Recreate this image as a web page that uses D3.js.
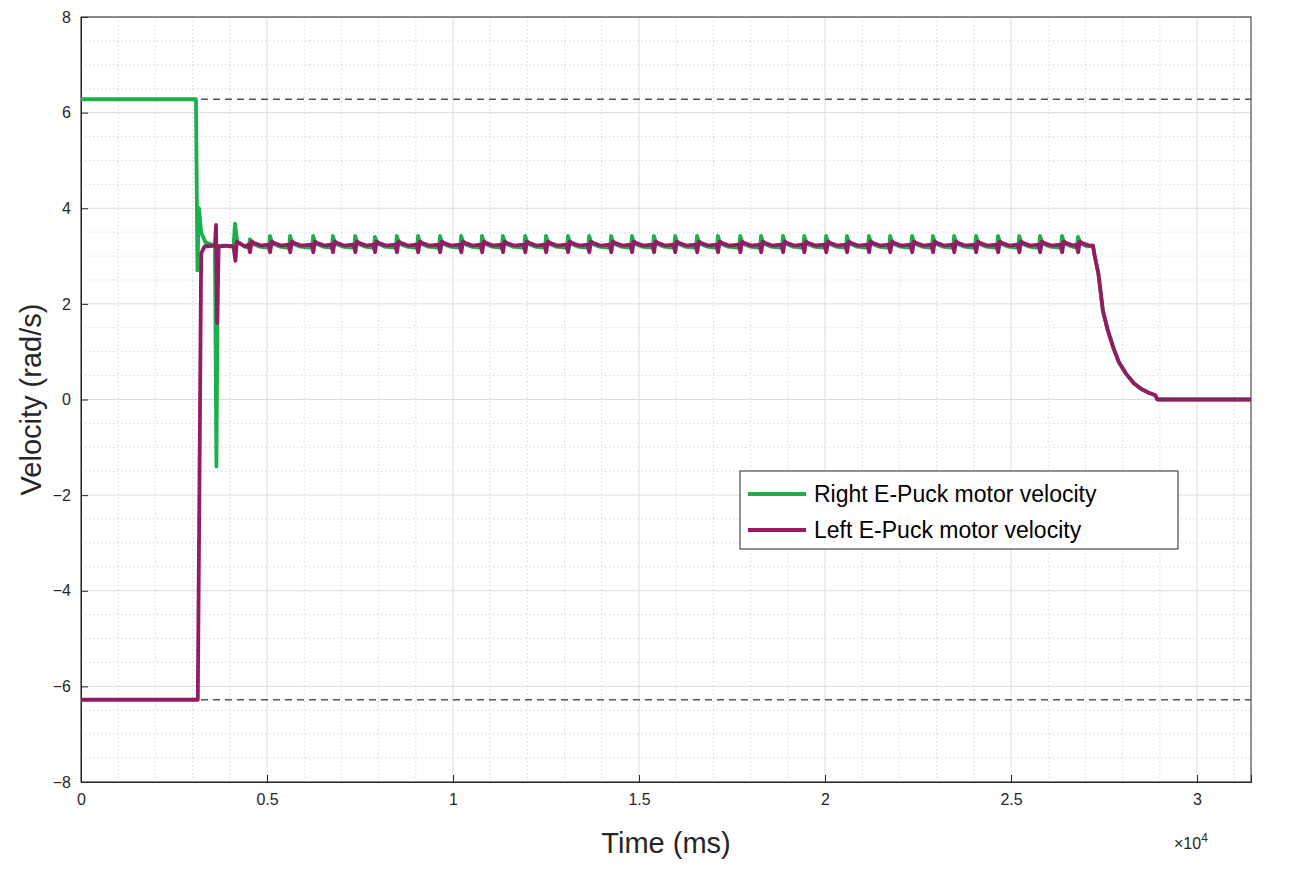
<!DOCTYPE html>
<html><head><meta charset="utf-8">
<script src="https://cdn.jsdelivr.net/npm/d3@7"></script>
<style>body{margin:0;background:#fff}text{font-family:"Liberation Sans",Arial,sans-serif}</style>
</head><body><svg id="c" width="1292" height="875"></svg>
<script>
// ---- data ----
const xTicks = [0, 5000, 10000, 15000, 20000, 25000, 30000];
const xTickLabels = ["0", "0.5", "1", "1.5", "2", "2.5", "3"];
const yTicks = [-8, -6, -4, -2, 0, 2, 4, 6, 8];
const refLevels = [6.28, -6.28];
// spike (oscillation) times in ms and green peak heights
const spikeTimes = [4540,5080,5620,6240,6770,7370,7900,8490,9060,9650,10220,10780,11340,11940,12500,13090,13660,14250,14810,15400,15970,16560,17120,17720,18280,18870,19440,20030,20590,21180,21750,22340,22900,23470,24060,24650,25220,25780,26370,26800];
const spikePeaks = [3.35,3.42,3.42,3.42,3.42,3.42,3.40,3.42,3.42,3.42,3.42,3.42,3.42,3.42,3.42,3.42,3.42,3.42,3.42,3.42,3.42,3.42,3.42,3.42,3.42,3.42,3.42,3.42,3.42,3.42,3.42,3.42,3.42,3.42,3.42,3.42,3.42,3.42,3.42,3.40];
// right motor breakpoints before spikes
const rightStart = [[0,6.28],[3090,6.28],[3130,2.7],[3170,4.0],[3230,3.5],[3350,3.28],[3600,3.22],[3640,-1.4],[3680,3.2],[3800,3.22],[4100,3.2],[4140,3.68],[4200,3.3],[4400,3.2]];
const leftStart = [[0,-6.28],[3090,-6.28],[3140,-6.28],[3230,3.05],[3320,3.2],[3600,3.22],[3630,3.65],[3660,1.6],[3700,3.2],[3900,3.22],[4100,3.2],[4150,2.9],[4190,3.3],[4400,3.2]];
// shared ending decay
const endDecay = [[27200,3.22],[27250,3.0],[27350,2.62],[27470,1.85],[27600,1.45],[27750,1.08],[27900,0.78],[28100,0.53],[28300,0.34],[28500,0.22],[28700,0.14],[28880,0.09],[28930,0.0],[31450,0.0]];

const seriesNames = ["Right E-Puck motor velocity", "Left E-Puck motor velocity"];
const colors = ["#1cb04c", "#951a64"];

function buildRight(){
  const p = rightStart.slice();
  spikeTimes.forEach((t,i)=>{
    p.push([t-25,3.17],[t,spikePeaks[i]],[t+40,3.32],[t+120,3.24],[t+260,3.2]);
  });
  return p.concat(endDecay);
}
function buildLeft(){
  const p = leftStart.slice();
  spikeTimes.forEach((t,i)=>{
    p.push([t-40,3.24],[t+5,3.08],[t+45,3.3],[t+150,3.26],[t+300,3.22]);
  });
  return p.concat(endDecay);
}
const series = [buildRight(), buildLeft()];

// ---- chart ----
const svg = d3.select("#c");
const L=81, R=1251, T=17, B=782;
const x = d3.scaleLinear().domain([0,31450]).range([L,R]);
const y = d3.scaleLinear().domain([-8,8]).range([B,T]);
const g = svg.append("g");

// minor grid
d3.range(1000,31450,1000).filter(v=>v%5000).forEach(v=>g.append("line").attr("x1",x(v)).attr("x2",x(v)).attr("y1",T).attr("y2",B).attr("stroke","#c8c8c8").attr("stroke-dasharray","1,3"));
d3.range(-7.5,8,0.5).filter(v=>Math.abs(v%2)>1e-9).forEach(v=>g.append("line").attr("y1",y(v)).attr("y2",y(v)).attr("x1",L).attr("x2",R).attr("stroke","#c8c8c8").attr("stroke-dasharray","1,3"));
// major grid
xTicks.forEach(v=>g.append("line").attr("x1",x(v)).attr("x2",x(v)).attr("y1",T).attr("y2",B).attr("stroke","#dcdcdc"));
yTicks.forEach(v=>g.append("line").attr("y1",y(v)).attr("y2",y(v)).attr("x1",L).attr("x2",R).attr("stroke","#dcdcdc"));

// axes
const xa = svg.append("g").attr("transform",`translate(0,${B})`).call(d3.axisBottom(x).tickValues(xTicks).tickFormat((d,i)=>xTickLabels[i]).tickSize(-7).tickPadding(12));
const ya = svg.append("g").attr("transform",`translate(${L},0)`).call(d3.axisLeft(y).tickValues(yTicks).tickSize(-7).tickPadding(10));
[xa,ya].forEach(a=>{a.selectAll("text").attr("font-size",16).attr("fill","#262626");a.selectAll("line,path").attr("stroke","#262626");});
svg.append("rect").attr("x",L).attr("y",T).attr("width",R-L).attr("height",B-T).attr("fill","none").attr("stroke","#262626");

// reference lines
refLevels.forEach(v=>svg.append("line").attr("x1",L).attr("x2",R).attr("y1",y(v)).attr("y2",y(v)).attr("stroke","#555").attr("stroke-width",1.5).attr("stroke-dasharray","7,5"));

// series
const line = d3.line().x(d=>x(d[0])).y(d=>y(d[1]));
series.forEach((s,i)=>svg.append("path").datum(s).attr("d",line).attr("fill","none").attr("stroke",colors[i]).attr("stroke-width",3.8).attr("stroke-linejoin","round"));

// labels
svg.append("text").attr("x",(L+R)/2).attr("y",853).attr("text-anchor","middle").attr("font-size",29).attr("fill","#262626").text("Time (ms)");
svg.append("text").attr("transform",`translate(41,${(T+B)/2}) rotate(-90)`).attr("text-anchor","middle").attr("font-size",29).attr("fill","#262626").text("Velocity (rad/s)");
const ex = svg.append("text").attr("x",1174).attr("y",849).attr("font-size",16).attr("fill","#262626");
ex.append("tspan").text("×10");
ex.append("tspan").attr("dy",-7).attr("font-size",12).text("4");

// legend
const lg = svg.append("g").attr("transform","translate(740,471)");
lg.append("rect").attr("width",438).attr("height",78).attr("fill","#fff").attr("stroke","#262626");
seriesNames.forEach((n,i)=>{
  const yy = 23+i*36;
  lg.append("line").attr("x1",8).attr("x2",66).attr("y1",yy).attr("y2",yy).attr("stroke",colors[i]).attr("stroke-width",3.8);
  lg.append("text").attr("x",74).attr("y",yy+8).attr("font-size",23).attr("fill","#000").text(n);
});
</script></body></html>
